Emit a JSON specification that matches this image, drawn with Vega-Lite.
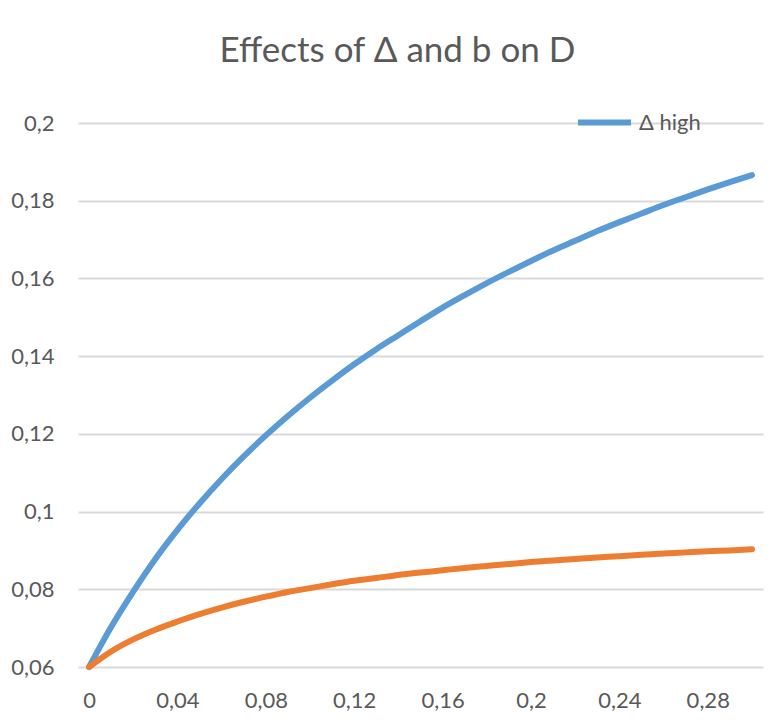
{
  "$schema": "https://vega.github.io/schema/vega-lite/v6.json",
  "width": 685,
  "height": 544,
  "autosize": {"type": "none"},
  "padding": {"left": 78, "top": 123, "right": 12, "bottom": 57},
  "background": "white",
  "title": {
    "text": "Effects of Δ and b on D",
    "font": "Lato",
    "fontSize": 35,
    "fontWeight": "normal",
    "color": "#595959",
    "anchor": "middle",
    "frame": "group",
    "offset": 24,
    "dx": -23
  },
  "config": {
    "view": {"stroke": null},
    "font": "Lato"
  },
  "data": {
    "values": [
      {"b": 0.00, "D": 0.0600, "s": "Δ high"},
      {"b": 0.01, "D": 0.0703, "s": "Δ high"},
      {"b": 0.02, "D": 0.0794, "s": "Δ high"},
      {"b": 0.03, "D": 0.0878, "s": "Δ high"},
      {"b": 0.04, "D": 0.0953, "s": "Δ high"},
      {"b": 0.05, "D": 0.1021, "s": "Δ high"},
      {"b": 0.06, "D": 0.1084, "s": "Δ high"},
      {"b": 0.07, "D": 0.1142, "s": "Δ high"},
      {"b": 0.08, "D": 0.1196, "s": "Δ high"},
      {"b": 0.09, "D": 0.1246, "s": "Δ high"},
      {"b": 0.10, "D": 0.1293, "s": "Δ high"},
      {"b": 0.11, "D": 0.1337, "s": "Δ high"},
      {"b": 0.12, "D": 0.1379, "s": "Δ high"},
      {"b": 0.13, "D": 0.1418, "s": "Δ high"},
      {"b": 0.14, "D": 0.1454, "s": "Δ high"},
      {"b": 0.15, "D": 0.1490, "s": "Δ high"},
      {"b": 0.16, "D": 0.1525, "s": "Δ high"},
      {"b": 0.17, "D": 0.1557, "s": "Δ high"},
      {"b": 0.18, "D": 0.1588, "s": "Δ high"},
      {"b": 0.19, "D": 0.1617, "s": "Δ high"},
      {"b": 0.20, "D": 0.1645, "s": "Δ high"},
      {"b": 0.21, "D": 0.1672, "s": "Δ high"},
      {"b": 0.22, "D": 0.1697, "s": "Δ high"},
      {"b": 0.23, "D": 0.1722, "s": "Δ high"},
      {"b": 0.24, "D": 0.1745, "s": "Δ high"},
      {"b": 0.25, "D": 0.1767, "s": "Δ high"},
      {"b": 0.26, "D": 0.1789, "s": "Δ high"},
      {"b": 0.27, "D": 0.1809, "s": "Δ high"},
      {"b": 0.28, "D": 0.1829, "s": "Δ high"},
      {"b": 0.29, "D": 0.1848, "s": "Δ high"},
      {"b": 0.30, "D": 0.1866, "s": "Δ high"},
      {"b": 0.00, "D": 0.0600, "s": "Δ low"},
      {"b": 0.01, "D": 0.0640, "s": "Δ low"},
      {"b": 0.02, "D": 0.0671, "s": "Δ low"},
      {"b": 0.03, "D": 0.0696, "s": "Δ low"},
      {"b": 0.04, "D": 0.0717, "s": "Δ low"},
      {"b": 0.05, "D": 0.0736, "s": "Δ low"},
      {"b": 0.06, "D": 0.0753, "s": "Δ low"},
      {"b": 0.07, "D": 0.0768, "s": "Δ low"},
      {"b": 0.08, "D": 0.0781, "s": "Δ low"},
      {"b": 0.09, "D": 0.0793, "s": "Δ low"},
      {"b": 0.10, "D": 0.0803, "s": "Δ low"},
      {"b": 0.11, "D": 0.0813, "s": "Δ low"},
      {"b": 0.12, "D": 0.0822, "s": "Δ low"},
      {"b": 0.13, "D": 0.0829, "s": "Δ low"},
      {"b": 0.14, "D": 0.0837, "s": "Δ low"},
      {"b": 0.15, "D": 0.0843, "s": "Δ low"},
      {"b": 0.16, "D": 0.0849, "s": "Δ low"},
      {"b": 0.17, "D": 0.0855, "s": "Δ low"},
      {"b": 0.18, "D": 0.0860, "s": "Δ low"},
      {"b": 0.19, "D": 0.0865, "s": "Δ low"},
      {"b": 0.20, "D": 0.0870, "s": "Δ low"},
      {"b": 0.21, "D": 0.0874, "s": "Δ low"},
      {"b": 0.22, "D": 0.0878, "s": "Δ low"},
      {"b": 0.23, "D": 0.0882, "s": "Δ low"},
      {"b": 0.24, "D": 0.0885, "s": "Δ low"},
      {"b": 0.25, "D": 0.0889, "s": "Δ low"},
      {"b": 0.26, "D": 0.0892, "s": "Δ low"},
      {"b": 0.27, "D": 0.0895, "s": "Δ low"},
      {"b": 0.28, "D": 0.0898, "s": "Δ low"},
      {"b": 0.29, "D": 0.0900, "s": "Δ low"},
      {"b": 0.30, "D": 0.0903, "s": "Δ low"}
    ]
  },
  "mark": {"type": "line", "strokeWidth": 6, "strokeCap": "round", "strokeJoin": "round", "interpolate": "monotone"},
  "encoding": {
    "x": {
      "field": "b",
      "type": "quantitative",
      "scale": {"domain": [-0.005, 0.305], "nice": false, "zero": false},
      "axis": {
        "title": null,
        "values": [0, 0.04, 0.08, 0.12, 0.16, 0.2, 0.24, 0.28],
        "labelExpr": "replace(toString(datum.value), '.', ',')",
        "grid": false,
        "domain": false,
        "ticks": false,
        "labelFont": "Lato",
        "labelFontSize": 22,
        "labelColor": "#595959",
        "labelPadding": 23,
        "labelFlush": false,
        "labelOverlap": false
      }
    },
    "y": {
      "field": "D",
      "type": "quantitative",
      "scale": {"domain": [0.06, 0.2], "nice": false, "zero": false},
      "axis": {
        "title": null,
        "values": [0.06, 0.08, 0.1, 0.12, 0.14, 0.16, 0.18, 0.2],
        "labelExpr": "replace(toString(datum.value), '.', ',')",
        "grid": true,
        "gridColor": "#D9D9D9",
        "gridWidth": 1.8,
        "domain": false,
        "ticks": false,
        "labelFont": "Lato",
        "labelFontSize": 22,
        "labelColor": "#595959",
        "labelPadding": 24,
        "labelFlush": false,
        "labelOverlap": false
      }
    },
    "color": {
      "field": "s",
      "type": "nominal",
      "scale": {"domain": ["Δ high", "Δ low"], "range": ["#5B9BD5", "#ED7D31"]},
      "legend": {
        "title": null,
        "values": ["Δ high"],
        "orient": "none",
        "legendX": 497,
        "legendY": -30,
        "symbolType": "stroke",
        "symbolSize": 2809,
        "symbolStrokeWidth": 6,
        "labelFont": "Lato",
        "labelFontSize": 22,
        "labelColor": "#595959",
        "labelOffset": 5,
        "padding": 0
      }
    }
  }
}
